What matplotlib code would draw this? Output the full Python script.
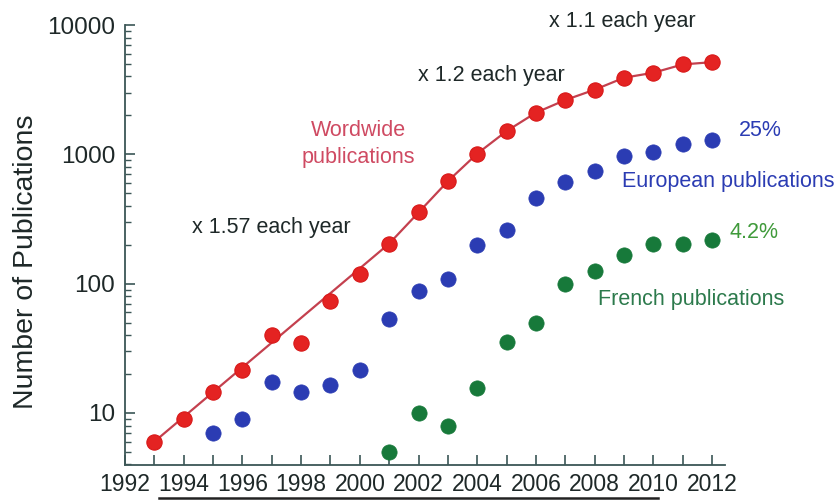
import matplotlib
matplotlib.use("Agg")
import matplotlib.pyplot as plt
from matplotlib import font_manager as fm
from matplotlib.lines import Line2D
from matplotlib.ticker import FixedLocator, LogLocator, NullFormatter

# Publication counts per year
years_world = list(range(1993, 2013))
world = [6.0, 9.0, 14.5, 21.5, 40, 35, 73, 118, 204, 355, 620, 1012, 1513,
         2100, 2630, 3160, 3910, 4275, 4955, 5160]

years_europe = list(range(1995, 2013))
europe = [7.0, 9.0, 17.3, 14.5, 16.4, 21.5, 53, 87.5, 108, 200, 262, 460,
          612, 743, 966, 1042, 1210, 1297]

years_france = list(range(2001, 2013))
france = [5.0, 10.0, 7.9, 15.6, 35.3, 49.5, 100, 126, 166, 204, 201, 217]

# Fitted growth curve for worldwide output
trend_years = [1993, 2001, 2002, 2003, 2004, 2005, 2006, 2007, 2008, 2009,
               2010, 2011, 2012]
trend_values = [6.0, 204, 355, 620, 1012, 1513, 2100, 2630, 3160, 3910,
                4275, 4955, 5160]

x_tick_years = list(range(1992, 2013, 2))
y_ticks = [10, 100, 1000, 10000]
y_tick_labels = ["10", "100", "1000", "10000"]

RED = "#e42322"
BLUE = "#2b3cb3"
GREEN = "#17793a"
LINE = "#c4404e"
AXIS = "#3b5656"
TEXT = "#1e2828"

names = {f.name for f in fm.fontManager.ttflist}
base_font = "Liberation Sans" if "Liberation Sans" in names else "DejaVu Sans"
if "Liberation Sans Narrow" in names:
    xtick_font, xtick_size = "Liberation Sans Narrow", 18.5
else:
    xtick_font, xtick_size = base_font, 16.5
plt.rcParams["font.family"] = [base_font, "DejaVu Sans"]

fig = plt.figure(figsize=(8.39, 5.0), dpi=100)
ax = fig.add_axes([125 / 839, 35 / 500, 600 / 839, 440 / 500])

ax.set_yscale("log")
ax.set_xlim(1992, 2012.44)
ax.set_ylim(3.96, 10000)

ax.plot(trend_years, trend_values, color=LINE, lw=1.6, zorder=2)
ms = 11
ax.plot(years_world, world, "o", color=RED, ms=ms, mec="#d81818", mew=0.8,
        zorder=3)
ax.plot(years_europe, europe, "o", color=BLUE, ms=ms, mec=BLUE, mew=0.5,
        zorder=3)
ax.plot(years_france, france, "o", color=GREEN, ms=ms, mec=GREEN, mew=0.5,
        zorder=3)

for side in ("top", "right"):
    ax.spines[side].set_visible(False)
for side in ("left", "bottom"):
    ax.spines[side].set_color(AXIS)
    ax.spines[side].set_linewidth(1.3)

ax.tick_params(axis="x", which="both", direction="in", length=7, width=1.2,
               color=AXIS, pad=6, labelsize=xtick_size, labelcolor=TEXT)
ax.tick_params(axis="y", which="major", direction="in", length=7, width=1.2,
               color=AXIS, pad=7, labelsize=17.5, labelcolor=TEXT)
ax.tick_params(axis="y", which="minor", direction="in", length=4, width=1.0,
               color=AXIS)

ax.xaxis.set_major_locator(FixedLocator(x_tick_years))
ax.xaxis.set_minor_locator(FixedLocator(list(range(1993, 2013, 2))))
ax.set_xticklabels([str(y) for y in x_tick_years])
for lbl in ax.get_xticklabels():
    lbl.set_family([xtick_font, "DejaVu Sans"])
    lbl.set_fontsize(xtick_size)

ax.yaxis.set_major_locator(FixedLocator(y_ticks))
ax.yaxis.set_minor_locator(LogLocator(base=10, subs=range(2, 10)))
ax.yaxis.set_minor_formatter(NullFormatter())
ax.set_yticklabels(y_tick_labels)

fig.text(26 / 839, 1 - 262 / 500, "Number of Publications", rotation=90,
         ha="center", va="center", fontsize=20.5, color=TEXT)

def note(px, py, s, color, ha="center", size=15.5):
    fig.text(px / 839, 1 - py / 500, s, ha=ha, va="center", fontsize=size,
             color=color)

note(622, 22, "x 1.1 each year", TEXT)
note(491, 75, "x 1.2 each year", TEXT)
note(271, 227, "x 1.57 each year", TEXT)
note(358, 131, "Wordwide", "#cf4a62")
note(358, 157, "publications", "#cf4a62")
note(739, 130, "25%", BLUE, ha="left")
note(622, 182, "European publications", BLUE, ha="left")
note(729, 232, "4.2%", "#3f9a3a", ha="left")
note(598, 300, "French publications", "#2c7a4c", ha="left")

fig.add_artist(Line2D([159 / 839, 658 / 839], [1 - 498 / 500, 1 - 498 / 500],
                      color="#222222", lw=1.8, transform=fig.transFigure))

fig.savefig("out.png", dpi=100)
